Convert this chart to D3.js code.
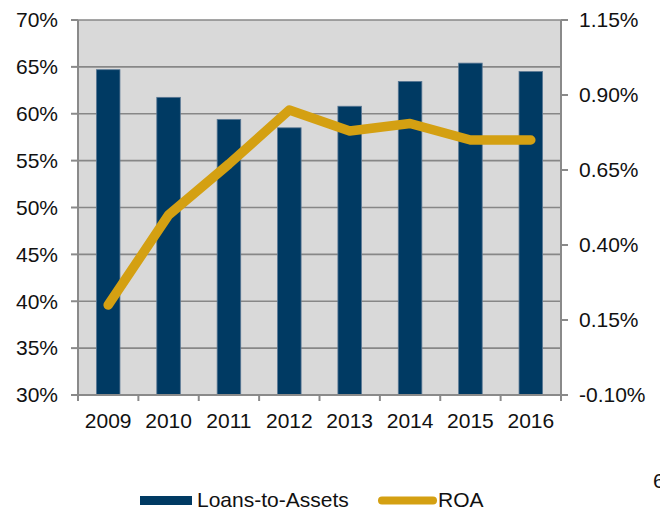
<!DOCTYPE html>
<html><head><meta charset="utf-8">
<script src="https://cdn.jsdelivr.net/npm/d3@7"></script>
<style>body{margin:0;background:#fff;}svg{display:block;font-family:"Liberation Sans",Arial,sans-serif;}</style>
</head><body>
<svg id="c" width="660" height="510"></svg>
<script>
const years = ["2009","2010","2011","2012","2013","2014","2015","2016"];
const loansToAssets = [64.7, 61.75, 59.4, 58.5, 60.8, 63.45, 65.4, 64.5];
const roa = [0.20, 0.50, 0.67, 0.85, 0.78, 0.805, 0.75, 0.75];
const leftTicks = [30,35,40,45,50,55,60,65,70];
const rightTicks = [-0.10,0.15,0.40,0.65,0.90,1.15];

const svg = d3.select("#c");
const L=78, R=561, T=20, B=395;
const FS = 21;
const x = d3.scaleBand().domain(years).range([L,R]).paddingInner(0.61).paddingOuter(0.305);
const xb = d3.scaleBand().domain(years).range([L,R]).padding(0);
const yL = d3.scaleLinear().domain([30,70]).range([B,T]);
const yR = d3.scaleLinear().domain([-0.10,1.15]).range([B,T]);

svg.append("rect").attr("x",L).attr("y",T).attr("width",R-L).attr("height",B-T).attr("fill","#d9d9d9");

// gridlines
svg.append("g").selectAll("line").data(leftTicks).join("line")
  .attr("x1",L).attr("x2",R).attr("y1",d=>yL(d)).attr("y2",d=>yL(d))
  .attr("stroke","#878787").attr("stroke-width",1.6);

// bars
svg.append("g").selectAll("rect").data(years).join("rect")
  .attr("x",d=>x(d)).attr("width",x.bandwidth())
  .attr("y",(d,i)=>yL(loansToAssets[i])).attr("height",(d,i)=>B-yL(loansToAssets[i]))
  .attr("fill","#003a63").attr("stroke","#5a7894").attr("stroke-width",0.8);

// axes lines
const axisCol="#8a8a8a";
svg.append("line").attr("x1",L).attr("x2",L).attr("y1",T).attr("y2",B).attr("stroke",axisCol).attr("stroke-width",2);
svg.append("line").attr("x1",R).attr("x2",R).attr("y1",T).attr("y2",B).attr("stroke",axisCol).attr("stroke-width",2);
svg.append("line").attr("x1",L).attr("x2",R).attr("y1",B).attr("y2",B).attr("stroke",axisCol).attr("stroke-width",2);

// left ticks
const gl = svg.append("g");
gl.selectAll("line").data(leftTicks).join("line")
  .attr("x1",L-7).attr("x2",L).attr("y1",d=>yL(d)).attr("y2",d=>yL(d)).attr("stroke",axisCol).attr("stroke-width",2);
gl.selectAll("text").data(leftTicks).join("text")
  .attr("x",58).attr("y",d=>yL(d)).attr("dy","0.35em").attr("text-anchor","end")
  .attr("font-size",FS).attr("fill","#111").text(d=>d+"%");

// right ticks
const gr = svg.append("g");
gr.selectAll("line").data(rightTicks).join("line")
  .attr("x1",R).attr("x2",R+7).attr("y1",d=>yR(d)).attr("y2",d=>yR(d)).attr("stroke",axisCol).attr("stroke-width",2);
gr.selectAll("text").data(rightTicks).join("text")
  .attr("x",579).attr("y",d=>yR(d)).attr("dy","0.35em").attr("text-anchor","start")
  .attr("font-size",FS).attr("fill","#111").text(d=>d.toFixed(2)+"%");

// x ticks
const bounds = years.map(d=>xb(d)).concat([R]);
svg.append("g").selectAll("line").data(bounds).join("line")
  .attr("x1",d=>d).attr("x2",d=>d).attr("y1",B).attr("y2",B+6).attr("stroke",axisCol).attr("stroke-width",2);
svg.append("g").selectAll("text").data(years).join("text")
  .attr("x",d=>x(d)+x.bandwidth()/2).attr("y",428).attr("text-anchor","middle")
  .attr("font-size",FS).attr("fill","#111").text(d=>d);

// ROA line
const line = d3.line().x((d,i)=>x(years[i])+x.bandwidth()/2).y(d=>yR(d));
svg.append("path").datum(roa).attr("d",line).attr("fill","none")
  .attr("stroke","#d4a012").attr("stroke-width",9.5).attr("stroke-linecap","round").attr("stroke-linejoin","round");

// legend
svg.append("rect").attr("x",140).attr("y",496).attr("width",52).attr("height",9).attr("fill","#003a63");
svg.append("text").attr("x",197).attr("y",507).attr("font-size",FS).attr("fill","#111").text("Loans-to-Assets");
svg.append("line").attr("x1",382).attr("x2",433).attr("y1",500.5).attr("y2",500.5)
  .attr("stroke","#d4a012").attr("stroke-width",8).attr("stroke-linecap","round");
svg.append("text").attr("x",438).attr("y",507).attr("font-size",FS).attr("fill","#111").text("ROA");
svg.append("text").attr("x",653).attr("y",488).attr("font-size",FS).attr("fill","#111").text("6");
</script>
</body></html>
